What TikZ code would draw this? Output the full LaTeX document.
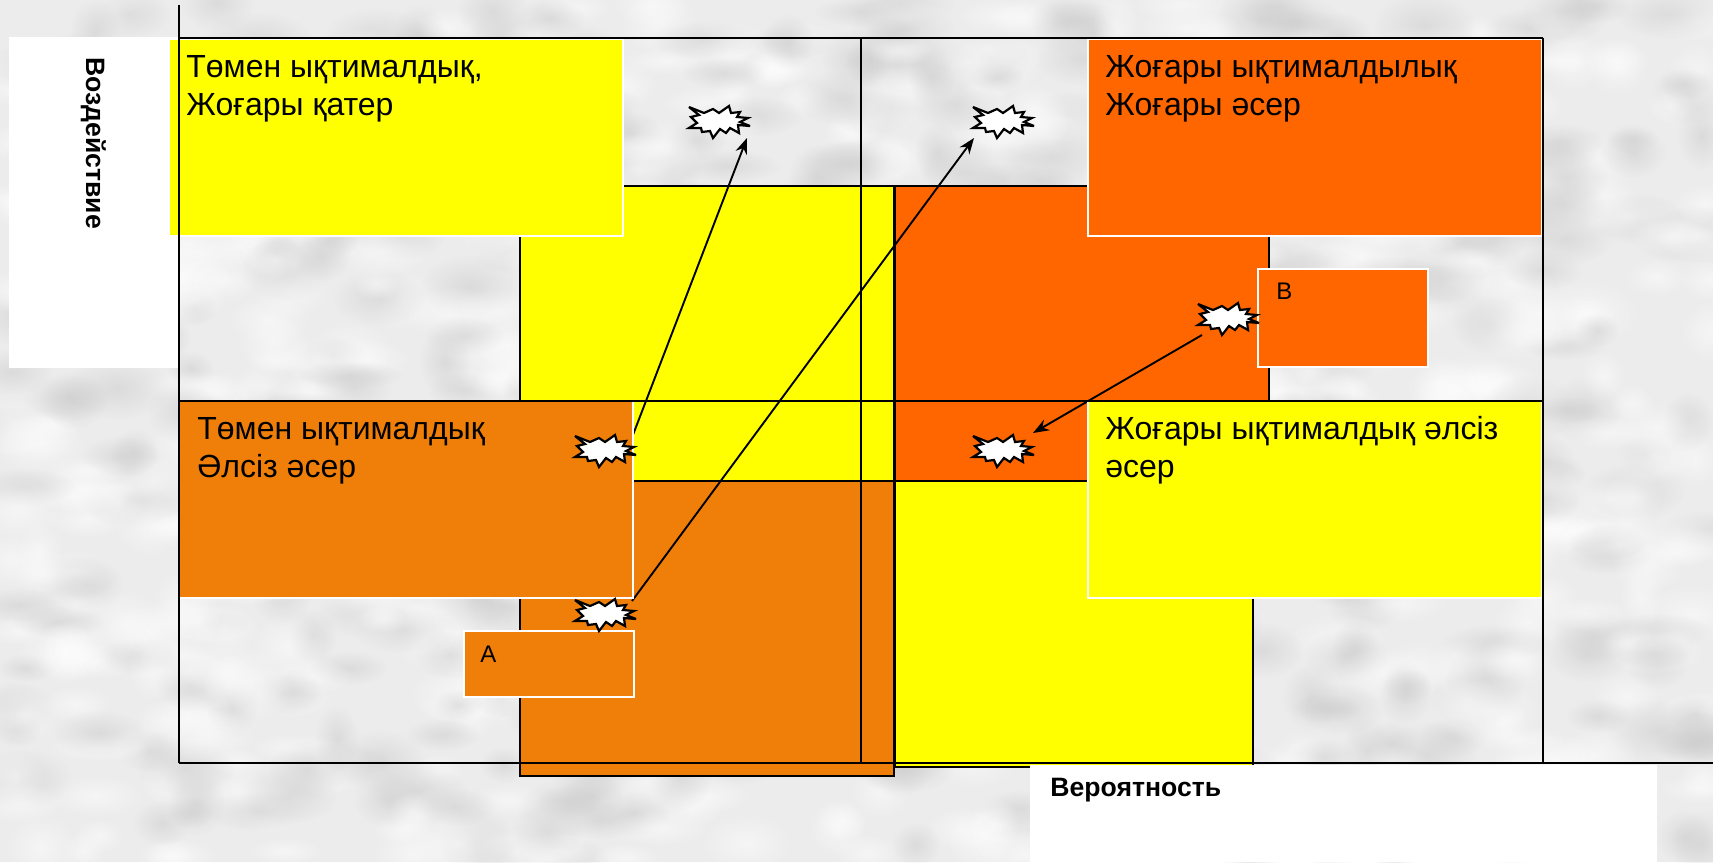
\documentclass[tikz,border=0pt]{standalone}
\usepackage{fontspec}
\setmainfont{Liberation Sans}
\usetikzlibrary{fadings,arrows.meta}
\definecolor{bgGrey}{HTML}{ECECEC}
\definecolor{blobGrey}{HTML}{CACACA}
\definecolor{kYellow}{HTML}{FFFF00}
\definecolor{kOrange}{HTML}{F07F09}
\definecolor{kRed}{HTML}{FF6600}
\tikzfading[name=softBlob, inner color=transparent!0, outer color=transparent!100]
\tikzstyle{bigBox} = [rectangle, anchor=north west, inner sep=0pt, outer sep=0pt, minimum width=187pt, minimum height=147.5pt, draw=black, line width=1.1pt]
\tikzstyle{infoBox} = [rectangle, anchor=north west, inner sep=0pt, outer sep=0pt, minimum width=227pt, minimum height=98.5pt, draw=white, line width=1pt]
\tikzstyle{whiteBox} = [rectangle, anchor=north west, inner sep=0pt, outer sep=0pt, fill=white]
\tikzstyle{gridLine} = [line width=1.1pt, draw=black]
\tikzstyle{bigTxt} = [anchor=north west, inner sep=0pt, align=left, font=\fontsize{16}{19}\selectfont]
\tikzstyle{smallTxt} = [anchor=base west, inner sep=0pt, font=\fontsize{12}{14}\selectfont]
\tikzstyle{boldTxt} = [anchor=base west, inner sep=0pt, font=\fontsize{13.3}{15}\selectfont\bfseries]
\tikzstyle{arrow} = [line width=0.95pt,-{Stealth[length=8pt,width=6pt]}]
\tikzset{burst/.pic={
    \filldraw[fill=white, draw=black, line width=1.1pt, miter limit=5]
      (-30,-14) -- (-15,-8) -- (-6,-12) -- (0,-8) -- (10,-15) -- (12,-8) -- (21,-9) -- (18,-4)
      -- (29,-3) -- (21,1) -- (31,5) -- (19,4) -- (20,12) -- (11,7) -- (7,12) -- (1,8) -- (-6,17)
      -- (-9,10) -- (-17,11) -- (-18,7) -- (-30,7) -- (-22,2) -- (-28,-4) -- (-20,-6) -- cycle;
}}
\begin{document}
\begin{tikzpicture}[x=0.5pt,y=-0.5pt]
    \useasboundingbox (0,0) rectangle (1713,862);
    \fill[bgGrey] (0,0) rectangle (1713,862);
    \begin{scope}
      \clip (0,0) rectangle (1713,862);
      \pgfmathsetseed{23}
      \foreach \i in {1,...,1100} {
        \pgfmathsetmacro{\bx}{random(0,1713)}
        \pgfmathsetmacro{\by}{random(0,862)}
        \pgfmathsetmacro{\rx}{random(22,55)}
        \pgfmathsetmacro{\ry}{random(14,34)}
        \pgfmathsetmacro{\bc}{mod(\i,5)<3 ? "white" : "blobGrey"}
        \fill[color=\bc, path fading=softBlob, opacity=0.5] (\bx,\by) ellipse ({\rx} and {\ry});
      }
    \end{scope}

    \node (bigYellow)[bigBox, fill=kYellow] at (520,186) {};
    \node (bigRed)[bigBox, fill=kRed] at (895,186) {};
    \node (bigOrange)[bigBox, fill=kOrange] at (520,481) {};
    \node (bigYellowLow)[bigBox, fill=kYellow, minimum width=179pt, minimum height=143pt] at (895,481) {};
    \node (whiteLeft)[whiteBox, minimum width=85pt, minimum height=165.5pt] at (9,37) {};
    \node (whiteBottom)[whiteBox, minimum width=313.5pt, minimum height=48.5pt] at (1030,765) {};

    \coordinate (startA) at (631,440);
    \coordinate (tipA) at (747,138);
    \coordinate (startB) at (632,601);
    \coordinate (tipB) at (974,138);
    \coordinate (startC) at (1202,335);
    \coordinate (tipC) at (1033,433);
    \draw [arrow] (startA) -- (tipA);
    \draw [arrow] (startB) -- (tipB);
    \draw [arrow] (startC) -- (tipC);

    \node (boxTL)[infoBox, fill=kYellow] at (169,39) {};
    \node (boxTR)[infoBox, fill=kRed] at (1088,39) {};
    \node (boxBL)[infoBox, fill=kOrange] at (179,401) {};
    \node (boxBR)[infoBox, fill=kYellow] at (1088,401) {};
    \node (boxA)[infoBox, fill=kOrange, minimum width=85pt, minimum height=33pt] at (464,631) {};
    \node (boxB)[infoBox, fill=kRed, minimum width=85pt, minimum height=49pt] at (1258,269) {};

    \coordinate (axisTop) at (179,5);
    \coordinate (axisOrigin) at (179,763);
    \coordinate (axisEnd) at (1713,763);
    \coordinate (gridTL) at (179,38);
    \coordinate (gridTM) at (861,38);
    \coordinate (gridTR) at (1543,38);
    \coordinate (gridML) at (179,401);
    \coordinate (gridMR) at (1543,401);
    \coordinate (gridBM) at (861,763);
    \coordinate (gridBR) at (1543,763);
    \draw [gridLine] (gridTL) -- (gridTR);
    \draw [gridLine] (gridML) -- (gridMR);
    \draw [gridLine] (gridTM) -- (gridBM);
    \draw [gridLine] (gridTR) -- (gridBR);
    \draw [gridLine] (axisTop) -- (axisOrigin);
    \draw [gridLine] (axisOrigin) -- (axisEnd);

    \pic (burstTop) at (719,121) {burst};
    \pic (burstMid) at (1003,121) {burst};
    \pic (burstL) at (605,450) {burst};
    \pic (burstA) at (605,614) {burst};
    \pic (burstB) at (1228,318) {burst};
    \pic (burstC) at (1003,450) {burst};

    \node (txtTL)[bigTxt] at (186,55) {Төмен ықтималдық,\\Жоғары қатер};
    \node (txtTR)[bigTxt] at (1105,55) {Жоғары ықтималдылық\\Жоғары әсер};
    \node (txtBL)[bigTxt] at (197,417) {Төмен ықтималдық\\Әлсіз әсер};
    \node (txtBR)[bigTxt] at (1105,416) {Жоғары ықтималдық әлсіз\\әсер};
    \node (txtA)[smallTxt] at (480,662) {A};
    \node (txtB)[smallTxt] at (1276,299) {B};
    \node (txtProb)[boldTxt] at (1050,796) {Вероятность};
    \node (txtImpact)[boldTxt, rotate=-90] at (86,57) {Воздействие};

  \end{tikzpicture}
\end{document}
